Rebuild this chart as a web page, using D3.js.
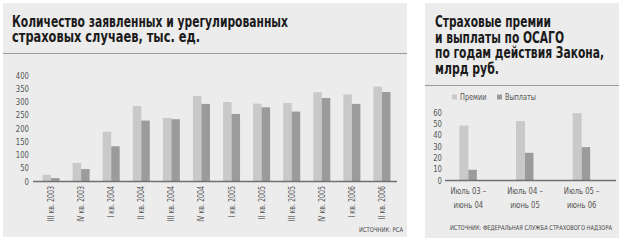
<!DOCTYPE html>
<html>
<head>
<meta charset="utf-8">
<script src="https://cdn.jsdelivr.net/npm/d3@7"></script>
<style>
  body { margin: 0; background: #fff; }
  text { font-family: "Liberation Sans Narrow", "DejaVu Sans Condensed", "Roboto", sans-serif; font-stretch: condensed; }
</style>
</head>
<body>
<div id="chart"></div>
<script>
// left chart: claims, thousands
var quarters = ["III кв. 2003", "IV кв. 2003", "I кв. 2004", "II кв. 2004", "III кв. 2004", "IV кв. 2004",
  "I кв. 2005", "II кв. 2005", "III кв. 2005", "IV кв. 2005", "I кв. 2006", "II кв. 2006"];
var declared = [23, 68, 186, 283, 238, 321, 298, 292, 294, 335, 327, 356];
var settled = [11, 45, 131, 228, 233, 291, 253, 278, 262, 313, 291, 336];
var leftTicks = [0, 50, 100, 150, 200, 250, 300, 350, 400];

// right chart: premiums and payouts, bn rub
var years = [["Июль 03 –", "июнь 04"], ["Июль 04 –", "июнь 05"], ["Июль 05 –", "июнь 06"]];
var premiums = [48, 52, 59];
var payouts = [9, 24, 29];
var rightTicks = [0, 10, 20, 30, 40, 50, 60];
var legendLabels = ["Премии", "Выплаты"];

var light = "#c9c9c9", dark = "#9b9b9b", panel = "#ececec";

var svg = d3.select("#chart").append("svg").attr("width", 620).attr("height", 240);

// squeeze a text horizontally to a share of its natural width
var squeeze = (sel, k) => {
  sel.each(function () {
    var w = this.getComputedTextLength();
    d3.select(this).attr("textLength", w * k).attr("lengthAdjust", "spacingAndGlyphs");
  });
  return sel;
};

// panels
svg.append("rect").attr("x", 3).attr("y", 3).attr("width", 404).attr("height", 234).attr("fill", panel);
svg.append("rect").attr("x", 425).attr("y", 3).attr("width", 194).attr("height", 235).attr("fill", panel);
svg.append("line").attr("x1", 3).attr("x2", 407).attr("y1", 53.5).attr("y2", 53.5).attr("stroke", "#9a9a9a");
svg.append("line").attr("x1", 425).attr("x2", 619).attr("y1", 85.5).attr("y2", 85.5).attr("stroke", "#9a9a9a");

var title = (lines, x, y0, lh, widths) => {
  lines.forEach((t, i) => {
    svg.append("text").attr("x", x).attr("y", y0 + i * lh)
      .attr("font-size", 15.5).attr("font-weight", "bold").attr("fill", "#1b1b1b")
      .attr("textLength", widths[i]).attr("lengthAdjust", "spacingAndGlyphs")
      .text(t);
  });
};
title(["Количество заявленных и урегулированных", "страховых случаев, тыс. ед."], 12, 27, 14.5, [276, 188]);
title(["Страховые премии", "и выплаты по ОСАГО", "по годам действия Закона,", "млрд руб."], 435, 27, 15.7, [116, 129, 169, 64]);

// ---- left chart
var x0 = d3.scaleBand().domain(quarters).range([36, 397]);
var y0 = d3.scaleLinear().domain([0, 400]).range([181, 75]);
var bw = 8.5;

var g0 = svg.append("g");
squeeze(g0.selectAll(".yl").data(leftTicks).enter().append("text")
  .attr("x", 29).attr("y", (d) => y0(d) + 3.5).attr("text-anchor", "end")
  .attr("font-size", 9).attr("fill", "#555").text((d) => d), 0.85);

quarters.forEach((q, i) => {
  var cx = x0(q) + x0.bandwidth() / 2;
  g0.append("rect").attr("x", cx - bw).attr("width", bw).attr("y", y0(declared[i]))
    .attr("height", y0(0) - y0(declared[i])).attr("fill", light);
  g0.append("rect").attr("x", cx).attr("width", bw).attr("y", y0(settled[i]))
    .attr("height", y0(0) - y0(settled[i])).attr("fill", dark);
  var lab = g0.append("text").attr("font-size", 9).attr("fill", "#555").text(q);
  var len = lab.node().getComputedTextLength() * 0.78;
  lab.attr("textLength", len).attr("lengthAdjust", "spacingAndGlyphs")
    .attr("transform", `translate(${cx + 3},${186 + len})rotate(-90)`);
});
g0.append("line").attr("x1", 33).attr("x2", 397).attr("y1", y0(0) + 0.5).attr("y2", y0(0) + 0.5)
  .attr("stroke", "#6f6f6f").attr("stroke-width", 1.3);
g0.append("text").attr("x", 359).attr("y", 232)
  .attr("font-size", 6.5).attr("fill", "#444")
  .attr("textLength", 44).attr("lengthAdjust", "spacingAndGlyphs").text("ИСТОЧНИК: РСА");

// ---- right chart
var x1 = d3.scaleBand().domain(d3.range(years.length)).range([440, 610]);
var y1 = d3.scaleLinear().domain([0, 60]).range([180, 112]);
var g1 = svg.append("g");

squeeze(g1.selectAll(".yl").data(rightTicks).enter().append("text")
  .attr("x", 442).attr("y", (d) => y1(d) + 3.5).attr("text-anchor", "end")
  .attr("font-size", 9).attr("fill", "#555").text((d) => d), 0.85);

years.forEach((yr, i) => {
  var cx = x1(i) + x1.bandwidth() / 2;
  g1.append("rect").attr("x", cx - bw - 0.5).attr("width", bw + 0.5).attr("y", y1(premiums[i]))
    .attr("height", y1(0) - y1(premiums[i])).attr("fill", light);
  g1.append("rect").attr("x", cx).attr("width", bw).attr("y", y1(payouts[i]))
    .attr("height", y1(0) - y1(payouts[i])).attr("fill", dark);
  yr.forEach((t, j) => {
    var lab = g1.append("text").attr("y", 194 + j * 14).attr("font-size", 9.5).attr("fill", "#555").text(t);
    var len = lab.node().getComputedTextLength() * 0.8;
    lab.attr("x", cx - len / 2).attr("textLength", len).attr("lengthAdjust", "spacingAndGlyphs");
  });
});
g1.append("line").attr("x1", 445).attr("x2", 616).attr("y1", y1(0) + 0.5).attr("y2", y1(0) + 0.5)
  .attr("stroke", "#6f6f6f").attr("stroke-width", 1.3);

// legend
var legX = [452, 497];
legendLabels.forEach((t, i) => {
  g1.append("rect").attr("x", legX[i]).attr("y", 94.5).attr("width", 5).attr("height", 5)
    .attr("fill", i ? dark : light);
  squeeze(g1.append("text").attr("x", legX[i] + 8).attr("y", 100).attr("font-size", 8.5)
    .attr("fill", "#555").text(t), 0.85);
});

g1.append("text").attr("x", 450).attr("y", 230)
  .attr("font-size", 6.5).attr("fill", "#444")
  .attr("textLength", 162).attr("lengthAdjust", "spacingAndGlyphs")
  .text("ИСТОЧНИК: ФЕДЕРАЛЬНАЯ СЛУЖБА СТРАХОВОГО НАДЗОРА");
</script>
</body>
</html>
